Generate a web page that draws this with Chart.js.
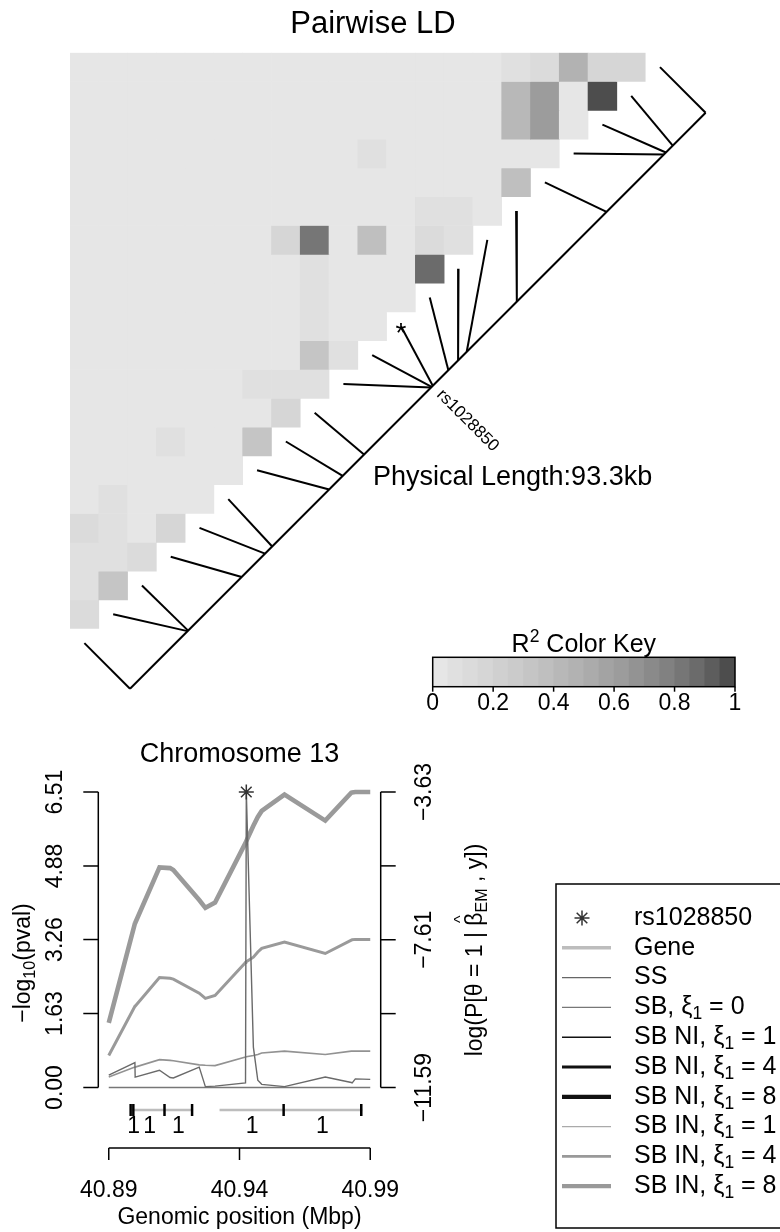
<!DOCTYPE html>
<html>
<head>
<meta charset="utf-8">
<script src="https://cdn.jsdelivr.net/npm/chart.js@4.4.1/dist/chart.umd.min.js"></script>
<style>
  html, body { margin: 0; padding: 0; background: #fff; }
  body { width: 780px; height: 1232px; position: relative; overflow: hidden; }
  canvas { position: absolute; }
  #ldChart { left: 0; top: 0; }
  #keyChart { left: 380px; top: 610px; }
  #assocChart { left: 0; top: 740px; }
</style>
</head>
<body>
<canvas id="ldChart" width="780" height="740"></canvas>
<canvas id="keyChart" width="400" height="110"></canvas>
<canvas id="assocChart" width="780" height="492"></canvas>
<script>
// ---- data ----
// SNP positions (Mbp), left to right
var snpPos = [40.8935, 40.90283, 40.90292, 40.9116, 40.91538, 40.91655, 40.92578, 40.92797,
  40.93143, 40.9423, 40.94239, 40.94258, 40.9451, 40.94668, 40.94808, 40.9562, 40.97075,
  40.98005, 40.98036, 40.98148, 40.9868];
var highlightIdx = 11;
var highlightName = 'rs1028850';

// pairwise R^2, one array per heatmap row (top row first)
var ldR2 = [
  [.02,.02,.02,.02,.02,.02,.02,.02,.02,.02,.02,.02,.02,.02,.02,.07,.12,.47,.17,.17],
  [.02,.02,.02,.02,.02,.02,.02,.02,.02,.02,.02,.02,.02,.02,.02,.42,.62,.02,.97],
  [.02,.02,.02,.02,.02,.02,.02,.02,.02,.02,.02,.02,.02,.02,.02,.42,.62,.02],
  [.02,.02,.02,.02,.02,.02,.02,.02,.02,.02,.07,.02,.02,.02,.02,.02,.03],
  [.02,.02,.02,.02,.02,.02,.02,.02,.02,.02,.02,.02,.02,.02,.02,.37],
  [.02,.02,.02,.02,.02,.02,.02,.02,.02,.02,.02,.02,.07,.07,.02],
  [.02,.02,.02,.02,.02,.02,.02,.17,.82,.03,.37,.03,.12,.07],
  [.02,.02,.02,.02,.02,.02,.02,.02,.07,.02,.02,.02,.87],
  [.02,.02,.02,.02,.02,.02,.02,.02,.07,.02,.02,.02],
  [.02,.02,.02,.02,.02,.02,.02,.02,.07,.02,.02],
  [.02,.02,.02,.02,.02,.02,.02,.02,.32,.07],
  [.02,.02,.02,.02,.02,.02,.07,.07,.07],
  [.02,.02,.02,.02,.02,.02,.02,.17],
  [.02,.02,.02,.07,.02,.02,.32],
  [.02,.02,.02,.02,.02,.02],
  [.02,.07,.02,.02,.02],
  [.12,.07,.02,.17],
  [.07,.07,.12],
  [.07,.32],
  [.12]
];

// association curves, one value per SNP
var ssLogP = [0.27, 0.55, 0.23, 0.38, 0.22, 0.21, 0.45, 0.02, 0.03, 0.10, 0.10, 6.51,
  0.89, 0.16, 0.07, 0.02, 0.23, 0.11, 0.10, 0.19, 0.18];
var sbXi0 = [-11.59, -11.59, -11.59, -11.59, -11.59, -11.59, -11.59, -11.59, -11.59, -11.59,
  -11.59, -11.59, -11.59, -11.59, -11.59, -11.59, -11.59, -11.59, -11.59, -11.59, -11.59];
var sbIn1 = [-11.31, -11.04, -11.04, -10.84, -10.86, -10.87, -10.98, -10.99, -11.00, -10.77,
  -10.77, -10.76, -10.73, -10.70, -10.66, -10.61, -10.70, -10.61, -10.61, -10.61, -10.61];
var sbIn4 = [-10.73, -9.40, -9.40, -8.63, -8.65, -8.67, -9.05, -9.19, -9.11, -8.22, -8.21,
  -8.20, -8.08, -7.94, -7.84, -7.67, -7.98, -7.62, -7.61, -7.60, -7.60];
var sbIn8 = [-9.85, -7.17, -7.16, -5.66, -5.68, -5.73, -6.54, -6.75, -6.61, -5.00, -4.99,
  -4.95, -4.54, -4.30, -4.14, -3.70, -4.40, -3.65, -3.64, -3.63, -3.63];

var leftTicks = [0, 1.63, 3.26, 4.88, 6.51];
var rightTicks = [-11.59, -9.60, -7.61, -5.62, -3.63];
var rightTickShown = [true, false, true, false, true];
var keyTicks = [0, 0.2, 0.4, 0.6, 0.8, 1];

// gene track (Mbp)
var geneStart = [40.90192, 40.93303];
var geneEnd = [40.92358, 40.98396];
var geneMarks = [40.90131, 40.90227, 40.91339, 40.92323, 40.95590, 40.98360];
var geneLabelPos = [40.90238, 40.90806, 40.91836, 40.94464, 40.96970];
var geneLabels = ['1', '1', '1', '1', '1'];

// ---- helpers ----
var FONT = '"Liberation Sans", Arial, Helvetica, sans-serif';
var nSnp = snpPos.length;
var nCells = nSnp - 1;
var span = snpPos[nSnp - 1] - snpPos[0];

// grey.colors(20) reversed: light for low R^2
function r2Color(r2) {
  var b = Math.min(19, Math.floor(r2 * 20));
  var k = 19 - b;
  var s = Math.pow(0.3, 2.2), e = Math.pow(0.9, 2.2);
  var v = Math.round(255 * Math.pow(s + (e - s) * k / 19, 1 / 2.2));
  return 'rgb(' + v + ',' + v + ',' + v + ')';
}

function fontFor(p, size) {
  var m = p[1];
  return ((m === 'sub' || m === 'sup') ? size * 0.7 : size) + 'px ' + FONT;
}

// parts: [[text, mode]], mode '', 'sub', 'sup', 'hat'
function drawRich(ctx, parts, x, y, size, align) {
  var widths = parts.map(function(p) { ctx.font = fontFor(p, size); return ctx.measureText(p[0]).width; });
  var total = widths.reduce(function(s, w) { return s + w; }, 0);
  var cx = align === 'center' ? x - total / 2 : (align === 'right' ? x - total : x);
  ctx.textAlign = 'left';
  parts.forEach(function(p, i) {
    var mode = p[1] || '';
    ctx.font = fontFor(p, size);
    var dy = mode === 'sub' ? size * 0.28 : (mode === 'sup' ? -size * 0.38 : 0);
    ctx.fillText(p[0], cx, y + dy);
    if (mode === 'hat') {
      ctx.font = (size * 0.7) + 'px ' + FONT;
      ctx.textAlign = 'center';
      ctx.fillText('^', cx + widths[i] / 2, y - size * 0.62);
      ctx.textAlign = 'left';
    }
    cx += widths[i];
  });
}

function seg(ctx, x1, y1, x2, y2) {
  ctx.beginPath(); ctx.moveTo(x1, y1); ctx.lineTo(x2, y2); ctx.stroke();
}

function rotRich(ctx, parts, x, y, size) {
  ctx.save();
  ctx.translate(x, y);
  ctx.rotate(-Math.PI / 2);
  ctx.textBaseline = 'middle';
  drawRich(ctx, parts, 0, 0, size, 'center');
  ctx.restore();
}

function fmtNum(v) {
  return (v < 0 ? '\u2212' : '') + Math.abs(v).toFixed(2);
}

// ---- LD heatmap ----
var tFrac = snpPos.map(function(p) { return (p - snpPos[0]) / span; });
var mapOff = 1.585; // gap between the diagonal and the physical map line, in cells
function cellPt(j) { return { x: j + 0.5, y: nSnp - 0.5 - j }; }
function mapPt(j) {
  return { x: 0.5 + mapOff + nCells * tFrac[j], y: nSnp - 0.5 + mapOff - nCells * tFrac[j] };
}

var ldDatasets = ldR2.map(function(row, r) {
  var data = [], colors = [];
  for (var c = 0; c < nCells; c++) {
    data.push(c < row.length ? [r, r + 1] : null);
    colors.push(c < row.length ? r2Color(row[c]) : 'rgba(0,0,0,0)');
  }
  return {
    type: 'bar', xAxisID: 'x', yAxisID: 'y', data: data, backgroundColor: colors,
    borderWidth: 0, barPercentage: 1, categoryPercentage: 1, grouped: false
  };
});

ldDatasets.push({
  type: 'line', xAxisID: 'x2', yAxisID: 'y2', data: [mapPt(0), mapPt(nSnp - 1)],
  borderColor: '#000', borderWidth: 2, pointRadius: 0, clip: false
});
for (var j = 0; j < nSnp; j++) {
  ldDatasets.push({
    type: 'line', xAxisID: 'x2', yAxisID: 'y2', data: [cellPt(j), mapPt(j)],
    borderColor: '#000', borderWidth: 2, pointRadius: 0, clip: false
  });
}

var ldText = {
  id: 'ldText',
  afterDraw: function(chart) {
    var ctx = chart.ctx, xs = chart.scales.x2, ys = chart.scales.y2;
    ctx.save();
    ctx.fillStyle = '#000';
    ctx.textBaseline = 'alphabetic';
    ctx.font = '31px ' + FONT;
    ctx.textAlign = 'center';
    ctx.fillText('Pairwise LD', 373, 33);

    // highlighted SNP: star at its diagonal cell, name beyond the map line
    var p = cellPt(highlightIdx);
    ctx.font = '28px ' + FONT;
    ctx.fillText('*', xs.getPixelForValue(p.x), ys.getPixelForValue(p.y) + 16);
    var q = mapPt(highlightIdx);
    ctx.save();
    ctx.translate(xs.getPixelForValue(q.x) + 5, ys.getPixelForValue(q.y) + 5);
    ctx.rotate(Math.PI / 4);
    ctx.textAlign = 'left';
    ctx.textBaseline = 'middle';
    ctx.font = '17px ' + FONT;
    ctx.fillText(highlightName, 2, 0);
    ctx.restore();

    ctx.textAlign = 'left';
    ctx.font = '27px ' + FONT;
    ctx.fillText('Physical Length:' + (span * 1000).toFixed(1) + 'kb', 373, 485);
    ctx.restore();
  }
};

new Chart(document.getElementById('ldChart'), {
  type: 'bar',
  data: { labels: ldR2[0].map(function(_, i) { return String(i); }), datasets: ldDatasets },
  options: {
    responsive: false, animation: false, events: [],
    layout: { padding: { left: 70, top: 52.7, right: 134.4, bottom: 111.3 } },
    plugins: { legend: { display: false }, tooltip: { enabled: false } },
    scales: {
      x: { type: 'category', display: false, offset: true },
      y: { type: 'linear', display: false, min: 0, max: nCells, reverse: true },
      x2: { type: 'linear', display: false, min: 0, max: nCells, offset: false },
      y2: { type: 'linear', display: false, min: 0, max: nCells, reverse: true, offset: false }
    }
  },
  plugins: [ldText]
});

// ---- colour key ----
var keyBins = [];
for (var b = 0; b < 20; b++) keyBins.push(b / 20);

var keyFrame = {
  id: 'keyFrame',
  afterDraw: function(chart) {
    var ctx = chart.ctx, a = chart.chartArea, xs = chart.scales.xk;
    ctx.save();
    ctx.strokeStyle = '#000';
    ctx.fillStyle = '#000';
    ctx.lineWidth = 1.5;
    ctx.strokeRect(a.left, a.top, a.width, a.height);
    ctx.textBaseline = 'middle';
    ctx.textAlign = 'center';
    ctx.font = '23px ' + FONT;
    keyTicks.forEach(function(v) {
      var x = xs.getPixelForValue(v);
      seg(ctx, x, a.bottom, x, a.bottom + 5);
      ctx.fillText(String(v), x, a.bottom + 17);
    });
    ctx.textBaseline = 'alphabetic';
    drawRich(ctx, [['R'], ['2', 'sup'], [' Color Key']], (a.left + a.right) / 2, a.top - 5.5, 25, 'center');
    ctx.restore();
  }
};

new Chart(document.getElementById('keyChart'), {
  type: 'bar',
  data: {
    labels: keyBins.map(String),
    datasets: [{
      data: keyBins.map(function() { return 1; }),
      backgroundColor: keyBins.map(function(v) { return r2Color(v + 0.025); }),
      borderWidth: 0, barPercentage: 1, categoryPercentage: 1
    }]
  },
  options: {
    responsive: false, animation: false, events: [],
    layout: { padding: { left: 52.7, right: 45, top: 47.3, bottom: 33.3 } },
    plugins: { legend: { display: false }, tooltip: { enabled: false } },
    scales: {
      x: { type: 'category', display: false },
      y: { type: 'linear', display: false, min: 0, max: 1 },
      xk: { type: 'linear', display: false, min: 0, max: 1, offset: false }
    }
  },
  plugins: [keyFrame]
});

// ---- association plot ----
function pts(arr) { return snpPos.map(function(x, i) { return { x: x, y: arr[i] }; }); }

var legendRows = [
  { label: [[highlightName]], star: true },
  { label: [['Gene']], color: '#bdbdbd', width: 3.5 },
  { label: [['SS']], color: '#666', width: 1.3 },
  { label: [['SB, \u03be'], ['1', 'sub'], [' = 0']], color: '#777', width: 1.3 },
  { label: [['SB NI, \u03be'], ['1', 'sub'], [' = 1']], color: '#111', width: 1.4 },
  { label: [['SB NI, \u03be'], ['1', 'sub'], [' = 4']], color: '#111', width: 2.8 },
  { label: [['SB NI, \u03be'], ['1', 'sub'], [' = 8']], color: '#111', width: 4.2 },
  { label: [['SB IN, \u03be'], ['1', 'sub'], [' = 1']], color: '#aaa', width: 1.3 },
  { label: [['SB IN, \u03be'], ['1', 'sub'], [' = 4']], color: '#999', width: 2.8 },
  { label: [['SB IN, \u03be'], ['1', 'sub'], [' = 8']], color: '#999', width: 4.2 }
];

var assocAxes = {
  id: 'assocAxes',
  afterDraw: function(chart) {
    var ctx = chart.ctx, a = chart.chartArea;
    var xs = chart.scales.x, yl = chart.scales.yL, yr = chart.scales.yR;
    ctx.save();
    ctx.strokeStyle = '#000';
    ctx.fillStyle = '#000';
    ctx.lineWidth = 1.5;

    // left axis
    seg(ctx, a.left, yl.getPixelForValue(leftTicks[0]), a.left, yl.getPixelForValue(leftTicks[leftTicks.length - 1]));
    leftTicks.forEach(function(v) {
      var y = yl.getPixelForValue(v);
      seg(ctx, a.left - 15, y, a.left, y);
      rotRich(ctx, [[fmtNum(v)]], a.left - 43, y, 23);
    });
    // right axis
    seg(ctx, a.right, yr.getPixelForValue(rightTicks[0]), a.right, yr.getPixelForValue(rightTicks[rightTicks.length - 1]));
    rightTicks.forEach(function(v, i) {
      var y = yr.getPixelForValue(v);
      seg(ctx, a.right, y, a.right + 15, y);
      if (rightTickShown[i]) rotRich(ctx, [[fmtNum(v)]], a.right + 43.5, y, 23);
    });
    rotRich(ctx, [['\u2212log'], ['10', 'sub'], ['(pval)']], 24, 223, 23);
    rotRich(ctx, [['log(P[\u03b8 = 1 | '], ['\u03b2', 'hat'], ['EM', 'sub'], [' , y])']], a.right + 95, 210, 23);

    // title
    ctx.textAlign = 'center';
    ctx.textBaseline = 'alphabetic';
    ctx.font = '27px ' + FONT;
    ctx.fillText('Chromosome 13', (a.left + a.right) / 2, 22);

    // gene track
    var gy = a.bottom + 22.5;
    ctx.strokeStyle = '#bdbdbd';
    ctx.lineWidth = 2.5;
    geneStart.forEach(function(s, i) {
      seg(ctx, xs.getPixelForValue(s), gy, xs.getPixelForValue(geneEnd[i]), gy);
    });
    ctx.strokeStyle = '#000';
    ctx.lineWidth = 2.5;
    geneMarks.forEach(function(m) {
      var x = xs.getPixelForValue(m);
      seg(ctx, x, gy - 6, x, gy + 6);
    });
    ctx.textBaseline = 'middle';
    ctx.font = '23px ' + FONT;
    geneLabelPos.forEach(function(p, i) {
      ctx.fillText(geneLabels[i], xs.getPixelForValue(p), gy + 17);
    });

    // x axis
    var ay = a.bottom + 60.5;
    var xt = [snpPos[0], (snpPos[0] + snpPos[nSnp - 1]) / 2, snpPos[nSnp - 1]];
    ctx.lineWidth = 1.5;
    seg(ctx, xs.getPixelForValue(xt[0]), ay, xs.getPixelForValue(xt[2]), ay);
    xt.forEach(function(v) {
      var x = xs.getPixelForValue(v);
      seg(ctx, x, ay, x, ay + 12);
      ctx.fillText(v.toFixed(2), x, ay + 42.5);
    });
    ctx.fillText('Genomic position (Mbp)', (xs.getPixelForValue(xt[0]) + xs.getPixelForValue(xt[2])) / 2, ay + 70);

    // legend
    ctx.lineWidth = 1.5;
    ctx.strokeStyle = '#000';
    ctx.strokeRect(556, 144, 240, 344);
    legendRows.forEach(function(row, i) {
      var y = 178 + 29.8 * i;
      if (row.star) {
        ctx.strokeStyle = '#333';
        ctx.lineWidth = 1.5;
        Chart.helpers.drawPoint(ctx, { pointStyle: 'star', radius: 7.5, borderWidth: 1.5 }, 582, y);
      } else {
        ctx.strokeStyle = row.color;
        ctx.lineWidth = row.width;
        seg(ctx, 562, y, 611, y);
      }
      ctx.fillStyle = '#000';
      ctx.textBaseline = 'middle';
      drawRich(ctx, row.label, 634, y, 25, 'left');
    });
    ctx.restore();
  }
};

new Chart(document.getElementById('assocChart'), {
  type: 'line',
  data: {
    datasets: [
      { label: highlightName, type: 'scatter', yAxisID: 'yL', showLine: false,
        data: [{ x: snpPos[highlightIdx], y: ssLogP[highlightIdx] }],
        pointStyle: 'star', pointRadius: 7.5, borderColor: '#333', borderWidth: 1.5, clip: false },
      { label: 'SS', yAxisID: 'yL', data: pts(ssLogP), borderColor: '#6a6a6a', borderWidth: 1.4 },
      { label: 'SB, xi1 = 0', yAxisID: 'yR', data: pts(sbXi0), borderColor: '#777', borderWidth: 1.4 },
      { label: 'SB IN, xi1 = 1', yAxisID: 'yR', data: pts(sbIn1), borderColor: '#929292', borderWidth: 1.6 },
      { label: 'SB IN, xi1 = 4', yAxisID: 'yR', data: pts(sbIn4), borderColor: '#9a9a9a', borderWidth: 3 },
      { label: 'SB IN, xi1 = 8', yAxisID: 'yR', data: pts(sbIn8), borderColor: '#9a9a9a', borderWidth: 4.6 }
    ]
  },
  options: {
    responsive: false, animation: false, events: [],
    layout: { padding: { left: 98.3, right: 780 - 380.7, top: 52, bottom: 492 - 347.5 } },
    plugins: { legend: { display: false }, tooltip: { enabled: false } },
    elements: { line: { tension: 0 }, point: { radius: 0 } },
    datasets: { line: { clip: false, pointRadius: 0 } },
    scales: {
      x: { type: 'linear', display: false, min: snpPos[0] - 0.04 * span, max: snpPos[nSnp - 1] + 0.04 * span },
      yL: { type: 'linear', display: false, position: 'left', min: leftTicks[0], max: leftTicks[leftTicks.length - 1] },
      yR: { type: 'linear', display: false, position: 'right', min: rightTicks[0], max: rightTicks[rightTicks.length - 1] }
    }
  },
  plugins: [assocAxes]
});
</script>
</body>
</html>
